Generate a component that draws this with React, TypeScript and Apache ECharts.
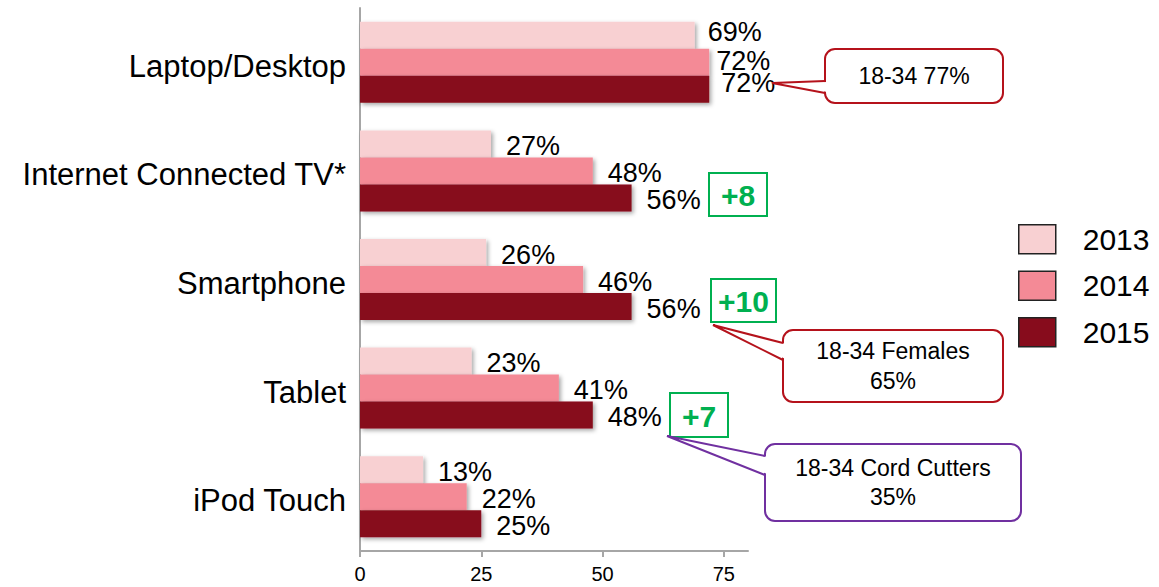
import React, { useEffect, useRef } from "react";
import * as echarts from "echarts";

const categories = ["Laptop/Desktop", "Internet Connected TV*", "Smartphone", "Tablet", "iPod Touch"];
const seriesNames = ["2013", "2014", "2015"];
const values2013 = [69, 27, 26, 23, 13];
const values2014 = [72, 48, 46, 41, 22];
const values2015 = [72, 56, 56, 48, 25];
const xTickValues = [0, 25, 50, 75];
const changeLabels = ["+8", "+10", "+7"];
const calloutTexts = ["18-34 77%", "18-34 Females\n65%", "18-34 Cord Cutters\n35%"];

const FONT = "'Liberation Sans', Arial, Helvetica, sans-serif";
const colors = ["#F8D0D2", "#F48A96", "#870C1C"];
const RED = "#B5121B";
const PURPLE = "#7030A0";
const GREEN = "#00B050";

function callout(
  x: number, y: number, w: number, h: number,
  tip: [number, number], b1: number, b2: number,
  color: string, text: string, lineHeight: number
) {
  return [
    {
      type: "rect",
      shape: { x, y, width: w, height: h, r: 10 },
      style: { fill: "#fff", stroke: color, lineWidth: 2 },
      z: 10,
    },
    {
      type: "polygon",
      shape: { points: [[x + 2.5, b1 + 1], tip, [x + 2.5, b2 - 1]] },
      style: { fill: "#fff", stroke: null },
      z: 11,
    },
    {
      type: "polyline",
      shape: { points: [[x, b1], tip, [x, b2]] },
      style: { stroke: color, lineWidth: 2, fill: null },
      z: 12,
    },
    {
      type: "text",
      x: x + w / 2,
      y: y + h / 2,
      style: {
        text,
        align: "center",
        verticalAlign: "middle",
        fontSize: 23,
        fontFamily: FONT,
        fill: "#000",
        lineHeight,
      },
      z: 13,
    },
  ];
}

function greenBox(x: number, y: number, w: number, h: number, text: string) {
  return [
    {
      type: "rect",
      shape: { x, y, width: w, height: h },
      style: { fill: "#fff", stroke: GREEN, lineWidth: 2 },
      z: 10,
    },
    {
      type: "text",
      x: x + w / 2,
      y: y + h / 2 + 1,
      style: {
        text,
        align: "center",
        verticalAlign: "middle",
        fontSize: 30,
        fontWeight: "bold",
        fontFamily: FONT,
        fill: GREEN,
      },
      z: 11,
    },
  ];
}

export default function App() {
  const ref = useRef<HTMLDivElement>(null);

  useEffect(() => {
    if (!ref.current) return;
    const chart = echarts.init(ref.current, null, { renderer: "svg" });

    const allValues = [values2013, values2014, values2015];
    // Label tweaks for the crowded top group (Laptop/Desktop)
    const firstGroupLabel = [
      { distance: 13, offset: [0, -3] },
      { distance: 7, offset: [0, -1] },
      { distance: 12, offset: [0, -6] },
    ];

    const series = seriesNames.map((name, si) => ({
      name,
      type: "bar",
      barWidth: 27,
      barGap: "0%",
      itemStyle: {
        color: colors[si],
        shadowColor: "rgba(0,0,0,0.35)",
        shadowBlur: 4,
        shadowOffsetX: 2,
        shadowOffsetY: 2,
      },
      label: {
        show: true,
        position: "right",
        distance: 15,
        offset: [0, 2],
        formatter: "{c}%",
        fontSize: 27,
        fontFamily: FONT,
        color: "#000",
      },
      data: allValues[si].map((v, i) =>
        i === 0 ? { value: v, label: firstGroupLabel[si] } : { value: v }
      ),
    }));

    const graphic: any[] = [
      ...callout(825, 49, 178, 54, [772, 83], 81, 93, RED, calloutTexts[0], 30),
      ...callout(783, 330, 220, 72, [713, 325], 343, 360, RED, calloutTexts[1], 30),
      ...callout(765, 444, 256, 77, [667, 436], 456, 475, PURPLE, calloutTexts[2], 29),
      ...greenBox(709, 173, 58, 43, changeLabels[0]),
      ...greenBox(711, 279, 65, 43, changeLabels[1]),
      ...greenBox(670, 393, 58, 44, changeLabels[2]),
    ];

    chart.setOption({
      animation: false,
      backgroundColor: "#fff",
      textStyle: { fontFamily: FONT },
      grid: { left: 360, top: 8, width: 388, height: 543, containLabel: false },
      legend: {
        data: seriesNames,
        orient: "vertical",
        left: 1013,
        top: 219,
        icon: "rect",
        itemWidth: 37,
        itemHeight: 29,
        itemGap: 16,
        itemStyle: { borderColor: "#222", borderWidth: 1.5 },
        textStyle: { fontSize: 30, fontFamily: FONT, color: "#000", padding: [0, 0, 0, 22] },
        selectedMode: false,
      },
      xAxis: {
        type: "value",
        min: 0,
        max: 80,
        interval: 25,
        splitLine: { show: false },
        axisLine: { show: true, lineStyle: { color: "#A6A6A6", width: 2 } },
        axisTick: {
          show: true,
          length: 6,
          customValues: xTickValues,
          lineStyle: { color: "#A6A6A6", width: 2 },
        },
        axisLabel: {
          customValues: xTickValues,
          fontSize: 20,
          fontFamily: FONT,
          color: "#000",
          margin: 13,
        },
      },
      yAxis: {
        type: "category",
        inverse: true,
        data: categories,
        axisLine: { show: true, lineStyle: { color: "#A6A6A6", width: 2 } },
        axisTick: { show: false },
        axisLabel: {
          fontSize: 31,
          fontFamily: FONT,
          color: "#000",
          margin: 14,
          verticalAlign: "top",
          lineHeight: 8,
        },
      },
      series,
      graphic,
    });

    return () => chart.dispose();
  }, []);

  return (
    <div
      ref={ref}
      style={{ position: "fixed", left: 0, top: 0, width: 1159, height: 587, background: "#fff" }}
    />
  );
}
